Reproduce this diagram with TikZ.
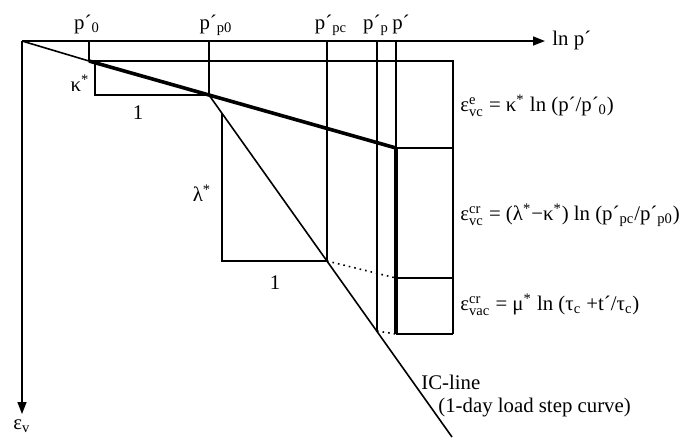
\documentclass[tikz,border=0pt]{standalone}
\usepackage{amsmath}
\usepackage{fontspec}
\setmainfont{Liberation Serif}
\usepackage{tikz}
\usetikzlibrary{arrows.meta, positioning}

\newcommand{\str}{\textsuperscript{*}}
\newcommand{\epsv}[2]{$\text{ε}^{\text{#1}}_{\text{#2}}$}

\tikzset{
  axis/.style={line width=0.8pt, -{Triangle[length=6pt, width=4.5pt]}},
  thinline/.style={line width=0.8pt},
  thickline/.style={line width=1.8pt},
  dotline/.style={line width=0.8pt, dotted},
  lbl/.style={inner sep=0pt}
}

\begin{document}
\begin{tikzpicture}[x=0.5pt, y=-0.5pt, font=\fontsize{10.4}{12.5}\selectfont]
          \useasboundingbox (0,0) rectangle (692,441);

          \coordinate (O) at (22,41);
          \coordinate (X) at (545,41);
          \coordinate (Y) at (22,414);

          \coordinate (A0) at (89,41);
          \coordinate (A) at (89,61);
          \coordinate (B0) at (209,41);
          \coordinate (B) at (209,95);
          \coordinate (C0) at (327,41);
          \coordinate (C) at (327,261);
          \coordinate (D0) at (377,41);
          \coordinate (D) at (377,331);
          \coordinate (P0) at (396,41);
          \coordinate (P) at (396,148);
          \coordinate (Q) at (396,278);
          \coordinate (Pb) at (396,334);
          \coordinate (E) at (452,437);

          \coordinate (R1) at (453,61);
          \coordinate (R2) at (453,148);
          \coordinate (R3) at (453,278);
          \coordinate (R4) at (453,334);

          \coordinate (K1) at (95,63);
          \coordinate (K2) at (95,95);
          \coordinate (L1) at (222,113);
          \coordinate (L2) at (222,261);

          \draw[axis] (O) -- (X);
          \draw[axis] (O) -- (Y);

          \draw[thinline] (A0) -- (A);
          \draw[thinline] (B0) -- (B);
          \draw[thinline] (C0) -- (C);
          \draw[thinline] (D0) -- (D);
          \draw[thinline] (P0) -- (P);
          \draw[thickline] (P) -- (Pb);

          \draw[thinline] (O) -- (A);
          \draw[thickline] (A) -- (P);
          \draw[thinline] (B) -- (E);

          \draw[thinline] (K1) -- (K2) -- (B);
          \draw[thinline] (L1) -- (L2) -- (C);

          \draw[thinline] (A) -- (R1) -- (R4);
          \draw[thinline] (P) -- (R2);
          \draw[thinline] (Q) -- (R3);
          \draw[thinline] (Pb) -- (R4);

          \draw[dotline] (C) -- (Q);
          \draw[dotline] (D) -- (Pb);

          \node[lbl, anchor=base] (p0) at (87,29) {p´\textsubscript{0}};
          \node[lbl, anchor=base] (pp0) at (216,29) {p´\textsubscript{p0}};
          \node[lbl, anchor=base] (ppc) at (331,29) {p´\textsubscript{pc}};
          \node[lbl, anchor=base] (pp) at (376,29) {p´\textsubscript{p}};
          \node[lbl, anchor=base] (pe) at (401,29) {p´};
          \node[lbl, anchor=west] (lnp) at (552,40) {ln p´};
          \node[lbl] (ev) at (22,426) {ε\textsubscript{v}};

          \node[lbl] (kap) at (80,83) {κ\str};
          \node[lbl] (one1) at (138,113) {1};
          \node[lbl] (lam) at (202,193) {λ\str};
          \node[lbl] (one2) at (275,283) {1};

          \node[lbl, anchor=west] (eqe) at (460,106) {\epsv{e}{vc} = κ\str{} ln (p´/p´\textsubscript{0})};
          \node[lbl, anchor=west] (eqc) at (460,215) {\epsv{cr}{vc} = (λ\str−κ\str) ln (p´\textsubscript{pc}/p´\textsubscript{p0})};
          \node[lbl, anchor=west] (eqa) at (460,305) {\epsv{cr}{vac} = μ\str{} ln (τ\textsubscript{c} +t´/τ\textsubscript{c})};

          \node[lbl, anchor=west] (ic) at (421,382) {IC-line};
          \node[lbl, anchor=west] (icd) at (438,408) {(1-day load step curve)};
        \end{tikzpicture}
\end{document}
